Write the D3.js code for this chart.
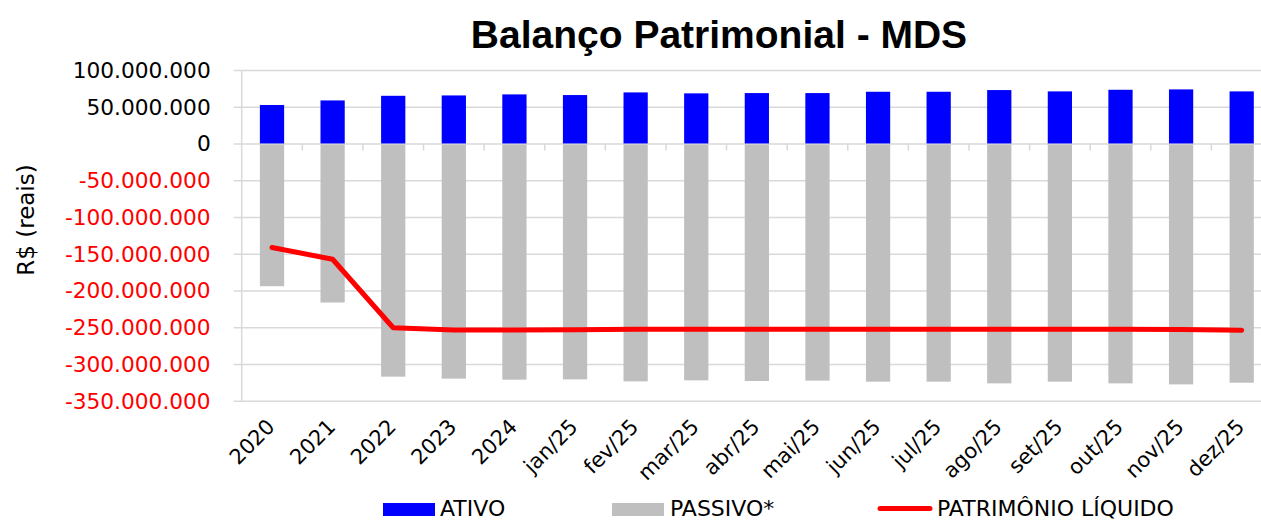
<!DOCTYPE html>
<html lang="pt-BR">
<head>
    <meta charset="UTF-8">
    <title>Balanço Patrimonial - MDS</title>
    <script src="https://d3js.org/d3.v7.min.js" charset="utf-8"></script>
    <style>
        body {
            margin: 0;
            background: white;
            font-family: "DejaVu Sans", sans-serif;
        }
        .grid line, .grid path {
            stroke: #d9d9d9;
            stroke-width: 1.5;
        }
    </style>
</head>
<body>
    <script>
        // values in millions of R$
        var categories = ['2020', '2021', '2022', '2023', '2024', 'jan/25', 'fev/25', 'mar/25', 'abr/25',
                          'mai/25', 'jun/25', 'jul/25', 'ago/25', 'set/25', 'out/25', 'nov/25', 'dez/25'];
        var ativo = [52.4, 58.6, 64.9, 65.4, 66.8, 65.9, 69.5, 68.2, 68.6, 68.6, 70.4, 70.4, 72.7, 70.9, 73.1, 73.6, 70.9];
        var passivo = [-194.2, -216.4, -317.3, -320.0, -321.4, -321.0, -323.7, -322.3, -323.2, -322.7,
                       -324.1, -324.1, -326.4, -324.1, -326.4, -327.8, -325.5];
        var patrimonio = [-141.5, -157.5, -250.7, -253.8, -253.8, -253.4, -252.9, -252.9, -252.9, -252.9,
                          -252.9, -252.9, -252.9, -252.9, -252.9, -253.2, -254.2];
        var yTicks = [100, 50, 0, -50, -100, -150, -200, -250, -300, -350];
        var legendLabels = ['ATIVO', 'PASSIVO*', 'PATRIMÔNIO LÍQUIDO'];

        var width = 1261;
        var height = 520;
        // plot area edges (note: "top" is a reserved global in browsers)
        var plotLeft = 241.7, plotRight = 1272, plotTop = 70, plotBottom = 400.7;

        var br = d3.formatLocale({decimal: ",", thousands: ".", grouping: [3], currency: ["R$", ""], minus: "-"});
        var fmt = br.format(",.0f");

        var svg = d3.select("body")
                    .append("svg")
                    .attr("width", width)
                    .attr("height", height);

        var x = d3.scaleBand()
                  .domain(categories)
                  .range([plotLeft, plotRight])
                  .paddingInner(0.6)
                  .paddingOuter(0.3);
        var step = x.step();

        var y = d3.scaleLinear()
                  .domain([-350, 100])
                  .range([plotBottom, plotTop]);

        // gridlines + y axis
        var grid = svg.append("g")
            .attr("class", "grid")
            .attr("transform", "translate(" + plotLeft + ",0)")
            .call(d3.axisLeft(y).tickValues(yTicks).tickSize(-(plotRight - plotLeft)).tickSizeOuter(0).tickFormat(""));
        grid.select(".domain").remove();
        grid.selectAll(".tick line").attr("x1", -8);

        svg.append("line")
            .attr("x1", plotLeft).attr("x2", plotLeft)
            .attr("y1", plotTop).attr("y2", plotBottom)
            .attr("stroke", "#d9d9d9")
            .attr("stroke-width", 1.5);

        svg.append("g")
            .selectAll("text")
            .data(yTicks)
            .enter()
            .append("text")
            .attr("x", 210.7)
            .attr("y", function (d) { return y(d); })
            .attr("dy", "0.36em")
            .attr("text-anchor", "end")
            .attr("font-size", "21.7px")
            .attr("fill", function (d) { return d < 0 ? "#ff0000" : "#000"; })
            .text(function (d) { return fmt(d * 1e6); });

        // category boundary ticks on the zero line
        svg.append("g")
            .selectAll("line")
            .data(categories.slice(1))
            .enter()
            .append("line")
            .attr("x1", function (d) { return x(d) - (step - x.bandwidth()) / 2; })
            .attr("x2", function (d) { return x(d) - (step - x.bandwidth()) / 2; })
            .attr("y1", y(0))
            .attr("y2", y(0) + 7)
            .attr("stroke", "#d9d9d9")
            .attr("stroke-width", 1.5);

        // bars
        svg.append("g")
            .selectAll("rect")
            .data(ativo)
            .enter()
            .append("rect")
            .attr("x", function (d, i) { return x(categories[i]); })
            .attr("width", x.bandwidth())
            .attr("y", function (d) { return y(d); })
            .attr("height", function (d) { return y(0) - y(d); })
            .attr("fill", "#0000ff");

        svg.append("g")
            .selectAll("rect")
            .data(passivo)
            .enter()
            .append("rect")
            .attr("x", function (d, i) { return x(categories[i]); })
            .attr("width", x.bandwidth())
            .attr("y", y(0) + 1)
            .attr("height", function (d) { return y(d) - y(0) - 1; })
            .attr("fill", "#bfbfbf");

        // patrimonio liquido line
        var line = d3.line()
            .x(function (d, i) { return x(categories[i]) + x.bandwidth() / 2; })
            .y(function (d) { return y(d); });

        svg.append("path")
            .datum(patrimonio)
            .attr("d", line)
            .attr("fill", "none")
            .attr("stroke", "#ff0000")
            .attr("stroke-width", 5)
            .attr("stroke-linecap", "round")
            .attr("stroke-linejoin", "round");

        // x labels
        svg.append("g")
            .selectAll("text")
            .data(categories)
            .enter()
            .append("text")
            .attr("transform", function (d) {
                return "translate(" + (x(d) + x.bandwidth() / 2 + 4) + "," + 428 + ") rotate(-45)";
            })
            .attr("text-anchor", "end")
            .attr("font-size", "21px")
            .attr("fill", "#000")
            .text(function (d) { return d; });

        // title
        svg.append("text")
            .attr("x", 719)
            .attr("y", 48)
            .attr("text-anchor", "middle")
            .attr("font-family", "'Liberation Sans', Arial, sans-serif")
            .attr("font-weight", "bold")
            .attr("font-size", "39px")
            .text("Balanço Patrimonial - MDS");

        // y axis title
        svg.append("text")
            .attr("transform", "translate(34,220) rotate(-90)")
            .attr("text-anchor", "middle")
            .attr("font-size", "23px")
            .text("R$ (reais)");

        // legend
        var legend = svg.append("g");
        legend.append("rect").attr("x", 383).attr("y", 503).attr("width", 52).attr("height", 13).attr("fill", "#0000ff");
        legend.append("rect").attr("x", 612).attr("y", 503).attr("width", 52).attr("height", 13).attr("fill", "#bfbfbf");
        legend.append("line")
            .attr("x1", 880).attr("x2", 930)
            .attr("y1", 508.5).attr("y2", 508.5)
            .attr("stroke", "#ff0000")
            .attr("stroke-width", 5)
            .attr("stroke-linecap", "round");
        legend.selectAll("text")
            .data(legendLabels)
            .enter()
            .append("text")
            .attr("x", function (d, i) { return [440, 670, 937][i]; })
            .attr("y", 516)
            .attr("font-size", "22px")
            .text(function (d) { return d; });
    </script>
</body>
</html>
